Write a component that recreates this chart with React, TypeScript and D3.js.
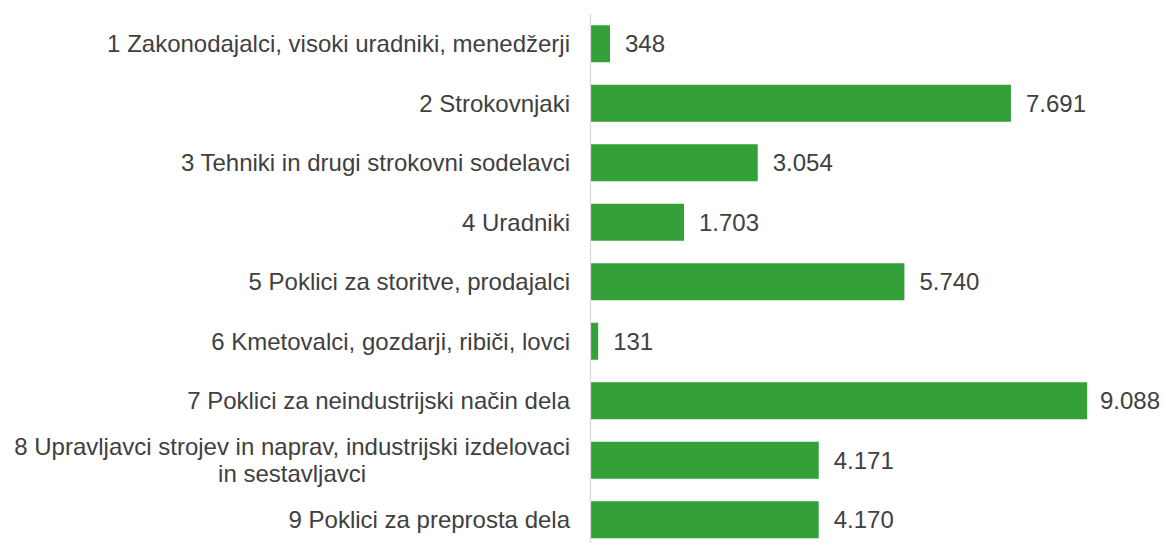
import React, { useEffect, useRef } from "react";
import * as d3 from "d3";

const categories: string[][] = [
  ["1 Zakonodajalci, visoki uradniki, menedžerji"],
  ["2 Strokovnjaki"],
  ["3 Tehniki in drugi strokovni sodelavci"],
  ["4 Uradniki"],
  ["5 Poklici za storitve, prodajalci"],
  ["6 Kmetovalci, gozdarji, ribiči, lovci"],
  ["7 Poklici za neindustrijski način dela"],
  ["8 Upravljavci strojev in naprav, industrijski izdelovaci", "in sestavljavci"],
  ["9 Poklici za preprosta dela"],
];
const values: number[] = [348, 7691, 3054, 1703, 5740, 131, 9088, 4171, 4170];
const valueLabels: string[] = ["348", "7.691", "3.054", "1.703", "5.740", "131", "9.088", "4.171", "4.170"];

const W = 1163;
const H = 543;
const FONT = "'Liberation Sans', Arial, sans-serif";

export default function App() {
  const ref = useRef<SVGSVGElement>(null);

  useEffect(() => {
    const svg = d3.select(ref.current);
    svg.selectAll("*").remove();

    const x0 = 591;
    const x = d3.scaleLinear().domain([0, 10000]).range([x0, x0 + 546]);
    const idx = categories.map((_, i) => String(i));
    const y = d3.scaleBand().domain(idx).range([14, 549.5]).paddingInner(0.378).paddingOuter(0.189);

    // bars
    svg
      .append("g")
      .selectAll("rect")
      .data(values)
      .join("rect")
      .attr("x", x(0))
      .attr("y", (_, i) => y(String(i))!)
      .attr("width", (d) => x(d) - x(0))
      .attr("height", y.bandwidth())
      .attr("fill", "#33a038");

    // axis line
    svg
      .append("line")
      .attr("x1", 590.5)
      .attr("x2", 590.5)
      .attr("y1", 14)
      .attr("y2", H)
      .attr("stroke", "#d9d9d9")
      .attr("stroke-width", 1.3);

    // category labels
    const labelG = svg.append("g").attr("font-family", FONT).attr("font-size", 24).attr("fill", "#404040");
    categories.forEach((lines, i) => {
      const cy = y(String(i))! + y.bandwidth() / 2;
      const lh = 26.7;
      const startY = cy - ((lines.length - 1) * lh) / 2;
      const first = labelG
        .append("text")
        .attr("x", 570)
        .attr("y", startY)
        .attr("dy", "0.35em")
        .attr("text-anchor", "end")
        .text(lines[0]);
      const w1 = (first.node() as SVGTextElement).getComputedTextLength();
      for (let k = 1; k < lines.length; k++) {
        labelG
          .append("text")
          .attr("x", 570 - w1 / 2)
          .attr("y", startY + k * lh)
          .attr("dy", "0.35em")
          .attr("text-anchor", "middle")
          .text(lines[k]);
      }
    });

    // value labels
    const valG = svg.append("g").attr("font-family", FONT).attr("font-size", 24).attr("fill", "#404040");
    values.forEach((v, i) => {
      const cy = y(String(i))! + y.bandwidth() / 2;
      const t = valG
        .append("text")
        .attr("y", cy)
        .attr("dy", "0.35em")
        .text(valueLabels[i]);
      const tw = (t.node() as SVGTextElement).getComputedTextLength();
      t.attr("x", Math.min(x(v) + 15, W - 3 - tw));
    });
  }, []);

  return (
    <svg
      ref={ref}
      width={W}
      height={H}
      style={{ position: "absolute", left: 0, top: 0, background: "#fff" }}
    />
  );
}
